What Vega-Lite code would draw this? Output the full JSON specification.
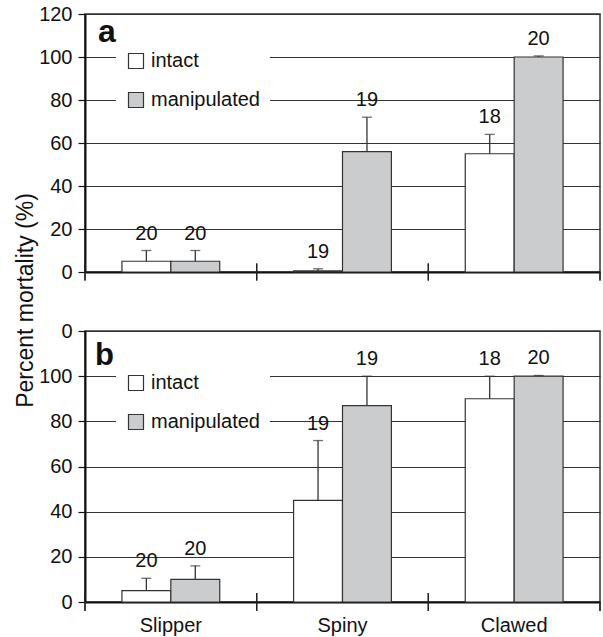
{
  "$schema": "https://vega.github.io/schema/vega-lite/v6.json",
  "padding": {"left": 13, "top": 3, "right": 2, "bottom": 35},
  "bounds": "flush",
  "spacing": 59,
  "config": {
    "view": {"stroke": "#333", "strokeWidth": 1.5},
    "font": "Liberation Sans",
    "text": {"font": "Liberation Sans"}
  },
  "datasets": {
    "mort": [
      {"panel": "a", "cat": "Slipper", "group": "intact", "value": 5, "err": 10, "n": 20},
      {"panel": "a", "cat": "Slipper", "group": "manipulated", "value": 5, "err": 10, "n": 20},
      {"panel": "a", "cat": "Spiny", "group": "intact", "value": 0.5, "err": 1.5, "n": 19},
      {"panel": "a", "cat": "Spiny", "group": "manipulated", "value": 56, "err": 72, "n": 19},
      {"panel": "a", "cat": "Clawed", "group": "intact", "value": 55, "err": 64, "n": 18},
      {"panel": "a", "cat": "Clawed", "group": "manipulated", "value": 100, "err": 100.5, "n": 20},
      {"panel": "b", "cat": "Slipper", "group": "intact", "value": 5, "err": 10.5, "n": 20},
      {"panel": "b", "cat": "Slipper", "group": "manipulated", "value": 10, "err": 16, "n": 20},
      {"panel": "b", "cat": "Spiny", "group": "intact", "value": 45, "err": 71.5, "n": 19},
      {"panel": "b", "cat": "Spiny", "group": "manipulated", "value": 87, "err": 100, "n": 19},
      {"panel": "b", "cat": "Clawed", "group": "intact", "value": 90, "err": 100, "n": 18},
      {"panel": "b", "cat": "Clawed", "group": "manipulated", "value": 100, "err": 100.3, "n": 20}
    ]
  },
  "data": {"name": "mort"},
  "resolve": {"legend": {"color": "independent"}},
  "vconcat": [
    {
      "width": 515,
      "height": 258,
      "transform": [{"filter": "datum.panel == 'a'"}],
      "encoding": {
        "x": {"field": "cat", "type": "nominal", "sort": ["Slipper", "Spiny", "Clawed"], "scale": {"paddingInner": 0, "paddingOuter": 0},
          "axis": {"labels": false, "ticks": false, "tickSize": 0, "title": null, "domainWidth": 2, "domainColor": "#111"}},
        "y": {"field": "value", "type": "quantitative", "scale": {"domain": [0, 120], "nice": false},
          "axis": {"values": [0, 20, 40, 60, 80, 100, 120], "grid": true, "gridColor": "#333", "gridWidth": 1, "tickSize": 7, "tickColor": "#111", "tickWidth": 1.2, "domainWidth": 2, "domainColor": "#111", "labelFontSize": 20, "labelPadding": 6, "labelColor": "#111", "labelFont": "Liberation Sans", "title": "Percent mortality (%)", "titleFontSize": 23, "titleFontWeight": "normal", "titleFont": "Liberation Sans", "titleColor": "#111", "titleY": 286, "titleX": -48, "titleBaseline": "bottom"}}
      },
      "layer": [
        {
          "mark": {"type": "bar", "stroke": "#333", "strokeWidth": 1.2},
          "encoding": {
            "xOffset": {"field": "group", "type": "nominal", "sort": ["intact", "manipulated"], "scale": {"paddingOuter": 0.755, "paddingInner": 0}},
            "color": {"field": "group", "type": "nominal", "scale": {"domain": ["intact", "manipulated"], "range": ["#ffffff", "#cbccce"]},
              "legend": {"title": null, "orient": "none", "legendX": 31, "legendY": 27, "fillColor": "white", "padding": 10, "symbolType": "square", "symbolSize": 225, "symbolStrokeColor": "#333", "symbolStrokeWidth": 1.2, "symbolOpacity": 1, "labelFontSize": 20, "labelOffset": 5, "rowPadding": 19, "labelFont": "Liberation Sans", "labelColor": "#111"}}
          }
        },
        {
          "mark": {"type": "rule", "color": "#333", "strokeWidth": 1.3},
          "encoding": {
            "xOffset": {"field": "group", "type": "nominal", "sort": ["intact", "manipulated"]},
            "y2": {"field": "err"}
          }
        },
        {
          "mark": {"type": "tick", "color": "#333", "thickness": 1.3, "size": 10},
          "encoding": {
            "xOffset": {"field": "group", "type": "nominal", "sort": ["intact", "manipulated"]},
            "y": {"field": "err", "type": "quantitative"}
          }
        },
        {
          "mark": {"type": "text", "fontSize": 20, "baseline": "alphabetic", "dy": -11, "color": "#111"},
          "encoding": {
            "xOffset": {"field": "group", "type": "nominal", "sort": ["intact", "manipulated"]},
            "y": {"field": "err", "type": "quantitative"},
            "text": {"field": "n", "type": "quantitative"}
          }
        },
        {
          "transform": [{"filter": "datum.cat == 'Slipper' && datum.group == 'intact'"}],
          "mark": {"type": "text", "fontSize": 32, "fontWeight": "bold", "align": "left", "baseline": "alphabetic", "dx": 13, "dy": 28, "color": "#111"},
          "encoding": {
            "x": {"field": "cat", "type": "nominal", "sort": ["Slipper", "Spiny", "Clawed"], "bandPosition": 0},
            "y": {"datum": 120},
            "text": {"field": "panel"}
          }
        },
        {
          "mark": {"type": "rule", "color": "#222", "strokeWidth": 1.3},
          "encoding": {
            "x": {"field": "cat", "type": "nominal", "sort": ["Slipper", "Spiny", "Clawed"], "bandPosition": 0},
            "y": {"datum": -4},
            "y2": {"datum": 4}
          }
        },
        {
          "transform": [{"filter": "datum.cat == 'Clawed'"}],
          "mark": {"type": "rule", "color": "#222", "strokeWidth": 1.3},
          "encoding": {
            "x": {"field": "cat", "type": "nominal", "sort": ["Slipper", "Spiny", "Clawed"], "bandPosition": 1},
            "y": {"datum": -4},
            "y2": {"datum": 0}
          }
        }
      ]
    },
    {
      "width": 515,
      "height": 271,
      "transform": [{"filter": "datum.panel == 'b'"}],
      "encoding": {
        "x": {"field": "cat", "type": "nominal", "sort": ["Slipper", "Spiny", "Clawed"], "scale": {"paddingInner": 0, "paddingOuter": 0},
          "axis": {"labels": true, "ticks": false, "tickSize": 0, "title": null, "labelAngle": 0, "labelFontSize": 20, "labelPadding": 13, "labelColor": "#111", "labelFont": "Liberation Sans", "domainWidth": 2, "domainColor": "#111"}},
        "y": {"field": "value", "type": "quantitative", "scale": {"domain": [0, 120], "nice": false},
          "axis": {"values": [0, 20, 40, 60, 80, 100, 120], "labelExpr": "datum.value == 120 ? '0' : datum.label", "grid": true, "gridColor": "#333", "gridWidth": 1, "tickSize": 7, "tickColor": "#111", "tickWidth": 1.2, "domainWidth": 2, "domainColor": "#111", "labelFontSize": 20, "labelPadding": 6, "labelColor": "#111", "labelFont": "Liberation Sans", "title": null}}
      },
      "layer": [
        {
          "mark": {"type": "bar", "stroke": "#333", "strokeWidth": 1.2},
          "encoding": {
            "xOffset": {"field": "group", "type": "nominal", "sort": ["intact", "manipulated"], "scale": {"paddingOuter": 0.755, "paddingInner": 0}},
            "color": {"field": "group", "type": "nominal", "scale": {"domain": ["intact", "manipulated"], "range": ["#ffffff", "#cbccce"]},
              "legend": {"title": null, "orient": "none", "legendX": 31, "legendY": 32, "fillColor": "white", "padding": 10, "symbolType": "square", "symbolSize": 225, "symbolStrokeColor": "#333", "symbolStrokeWidth": 1.2, "symbolOpacity": 1, "labelFontSize": 20, "labelOffset": 5, "rowPadding": 19, "labelFont": "Liberation Sans", "labelColor": "#111"}}
          }
        },
        {
          "mark": {"type": "rule", "color": "#333", "strokeWidth": 1.3},
          "encoding": {
            "xOffset": {"field": "group", "type": "nominal", "sort": ["intact", "manipulated"]},
            "y2": {"field": "err"}
          }
        },
        {
          "mark": {"type": "tick", "color": "#333", "thickness": 1.3, "size": 10},
          "encoding": {
            "xOffset": {"field": "group", "type": "nominal", "sort": ["intact", "manipulated"]},
            "y": {"field": "err", "type": "quantitative"}
          }
        },
        {
          "mark": {"type": "text", "fontSize": 20, "baseline": "alphabetic", "dy": -11, "color": "#111"},
          "encoding": {
            "xOffset": {"field": "group", "type": "nominal", "sort": ["intact", "manipulated"]},
            "y": {"field": "err", "type": "quantitative"},
            "text": {"field": "n", "type": "quantitative"}
          }
        },
        {
          "transform": [{"filter": "datum.cat == 'Slipper' && datum.group == 'intact'"}],
          "mark": {"type": "text", "fontSize": 31, "fontWeight": "bold", "align": "left", "baseline": "alphabetic", "dx": 10, "dy": 34, "color": "#111"},
          "encoding": {
            "x": {"field": "cat", "type": "nominal", "sort": ["Slipper", "Spiny", "Clawed"], "bandPosition": 0},
            "y": {"datum": 120},
            "text": {"field": "panel"}
          }
        },
        {
          "mark": {"type": "rule", "color": "#222", "strokeWidth": 1.3},
          "encoding": {
            "x": {"field": "cat", "type": "nominal", "sort": ["Slipper", "Spiny", "Clawed"], "bandPosition": 0},
            "y": {"datum": -4},
            "y2": {"datum": 4}
          }
        },
        {
          "transform": [{"filter": "datum.cat == 'Clawed'"}],
          "mark": {"type": "rule", "color": "#222", "strokeWidth": 1.3},
          "encoding": {
            "x": {"field": "cat", "type": "nominal", "sort": ["Slipper", "Spiny", "Clawed"], "bandPosition": 1},
            "y": {"datum": -4},
            "y2": {"datum": 0}
          }
        }
      ]
    }
  ]
}
